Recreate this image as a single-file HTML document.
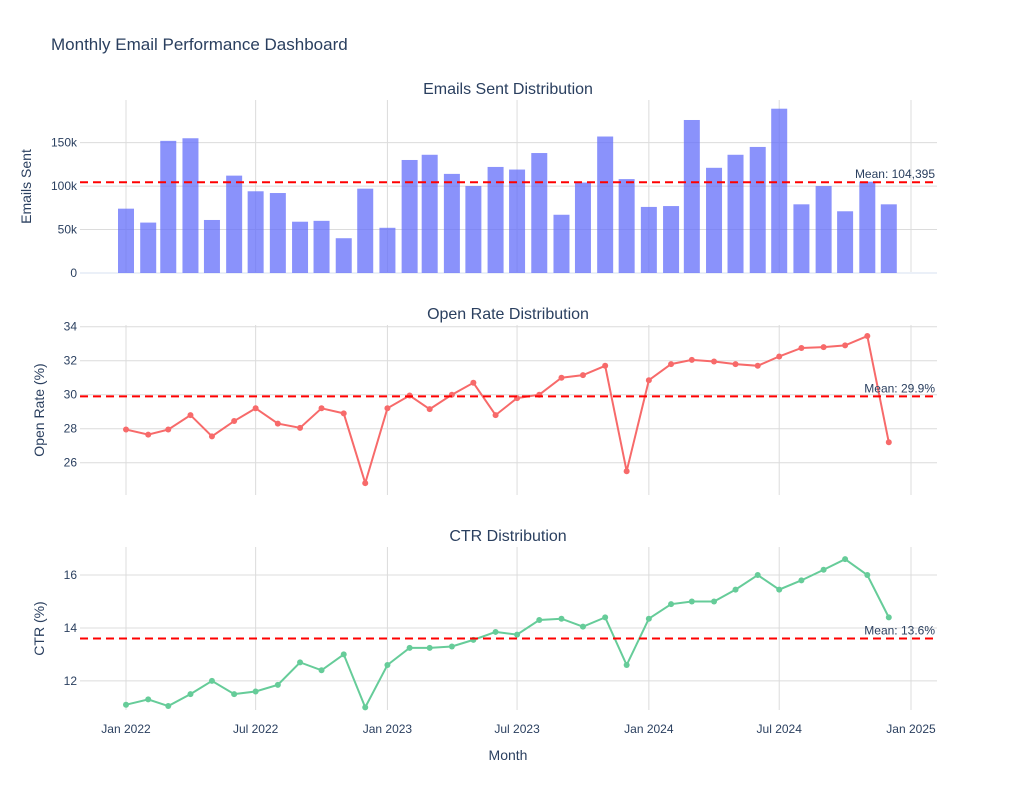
<!DOCTYPE html>
<html><head><meta charset="utf-8"><style>
body{margin:0;background:#fff;font-family:"Liberation Sans",sans-serif}
svg text{font-family:"Liberation Sans",sans-serif;fill:#2a3f5f}
</style></head><body>
<svg id="c" width="1016" height="800">
<text x="51" y="50" font-size="17">Monthly Email Performance Dashboard</text>
</svg>
<script>
const emailsSent=[74,58,152,155,61,112,94,92,59,60,40,97,52,130,136,114,100,122,119,138,67,104,157,108,76,77,176,121,136,145,189,79,100,71,105,79];
const openRate=[27.95,27.65,27.95,28.8,27.55,28.45,29.2,28.3,28.05,29.2,28.9,24.8,29.2,29.95,29.15,30.0,30.7,28.8,29.8,30.0,31.0,31.15,31.7,25.5,30.85,31.8,32.05,31.95,31.8,31.7,32.25,32.75,32.8,32.9,33.45,27.2];
const ctr=[11.1,11.3,11.05,11.5,12.0,11.5,11.6,11.85,12.7,12.4,13.0,11.0,12.6,13.25,13.25,13.3,13.55,13.85,13.75,14.3,14.35,14.05,14.4,12.6,14.35,14.9,15.0,15.0,15.45,16.0,15.45,15.8,16.2,16.6,16.0,14.4];
const xTickLabels=["Jan 2022","Jul 2022","Jan 2023","Jul 2023","Jan 2024","Jul 2024","Jan 2025"];
const sentTicks=[0,50,100,150], openTicks=[26,28,30,32,34], ctrTicks=[12,14,16];
const sentMean=104.395, openMean=29.9, ctrMean=13.6;
const NS="http://www.w3.org/2000/svg", svg=document.getElementById('c');
function mk(t,a,txt){const e=document.createElementNS(NS,t);for(const k in a)e.setAttribute(k,a[k]);if(txt!==undefined)e.textContent=txt;svg.appendChild(e);return e;}
const L=80,R=937;
const t0=Date.UTC(2022,0,1),t1=Date.UTC(2025,0,1);
function x(d){return 126+(d-t0)/(t1-t0)*(911-126);}
function monthDate(i){return Date.UTC(2022,i,1);}
function tickDate(j){return Date.UTC(2022+Math.floor(j/2),(j%2)*6,1);}
function scale(lo,hi,top,bot){return v=>bot-(v-lo)/(hi-lo)*(bot-top);}
const panels=[
 {title:"Emails Sent Distribution",yt:"Emails Sent",ytx:31,top:100,bot:273,lo:0,hi:199,ticks:sentTicks,fmt:v=>v?v+"k":"0",mean:sentMean,meanTxt:"Mean: 104,395",data:emailsSent,type:"bar"},
 {title:"Open Rate Distribution",yt:"Open Rate (%)",ytx:44,top:325,bot:495,lo:24.1,hi:34.1,ticks:openTicks,fmt:v=>v,mean:openMean,meanTxt:"Mean: 29.9%",data:openRate,type:"line",color:"#f76a6a"},
 {title:"CTR Distribution",yt:"CTR (%)",ytx:44,top:547,bot:710,lo:10.9,hi:17.06,ticks:ctrTicks,fmt:v=>v,mean:ctrMean,meanTxt:"Mean: 13.6%",data:ctr,type:"line",color:"#66cc99"}];
panels.forEach((p,pi)=>{
 const y=scale(p.lo,p.hi,p.top,p.bot);
 for(let j=0;j<7;j++){const e=mk('line',{x1:x(tickDate(j)),x2:x(tickDate(j)),y1:p.top,y2:p.bot,stroke:'#dcdcdc'});}
 p.ticks.forEach(v=>{const g=mk('line',{x1:L,x2:R,y1:y(v),y2:y(v),stroke:v===0?'#ebf0f8':'#dcdcdc','stroke-width':v===0?2:1});
  const t=mk('text',{x:L-3,y:y(v)+4,'text-anchor':'end','font-size':12},p.fmt(v));});
 const tt=mk('text',{x:508,y:p.top-6,'text-anchor':'middle','font-size':16},p.title);
 const cy=(p.top+p.bot)/2;
 const yl=mk('text',{x:p.ytx,y:cy,'text-anchor':'middle','font-size':14,transform:`rotate(-90 ${p.ytx} ${cy})`},p.yt);
 if(p.type==="bar"){
  p.data.forEach((v,i)=>{const b=mk('rect',{x:x(monthDate(i))-8,y:y(v),width:16,height:y(0)-y(v),fill:'rgba(99,110,250,0.75)'});});
 } else {
  const pts=p.data.map((v,i)=>x(monthDate(i))+","+y(v)).join(" ");
  const pl=mk('polyline',{points:pts,fill:'none',stroke:p.color,'stroke-width':2});
  p.data.forEach((v,i)=>{const c=mk('circle',{cx:x(monthDate(i)),cy:y(v),r:3,fill:p.color});});
 }
 const ml=mk('line',{x1:L,x2:R,y1:y(p.mean),y2:y(p.mean),stroke:'red','stroke-width':2,'stroke-dasharray':'8,5'});
 const mt=mk('text',{x:R-2,y:y(p.mean)-4,'text-anchor':'end','font-size':12},p.meanTxt);
});
xTickLabels.forEach((s,j)=>{const t=mk('text',{x:x(tickDate(j)),y:733,'text-anchor':'middle','font-size':12},s);});
const xt=mk('text',{x:508,y:760,'text-anchor':'middle','font-size':14},"Month");
</script>
</body></html>
